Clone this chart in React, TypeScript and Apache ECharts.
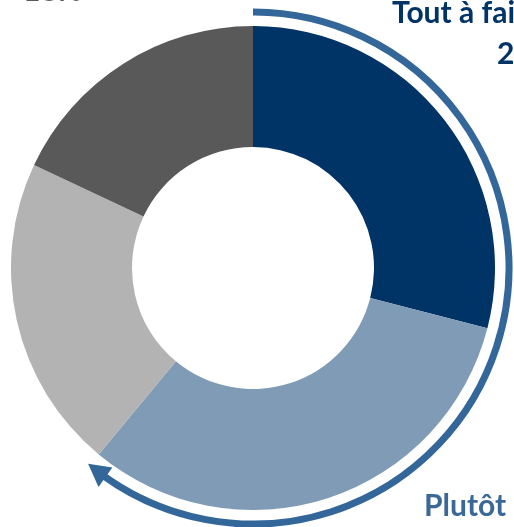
import React, { useEffect, useRef } from "react";
import * as echarts from "echarts";

const categories = ["Tout à fait d'accord", "Plutôt d'accord", "Plutôt pas d'accord", "Pas du tout d'accord"];
const values = [29, 32, 21, 18];
const sliceColors = ["#003366", "#7F9BB5", "#B3B3B3", "#595959"];
const labelColors = ["#003366", "#3A6898", "#808080", "#595959"];

export default function App() {
  const ref = useRef<HTMLDivElement>(null);
  useEffect(() => {
    if (!ref.current) return;
    const chart = echarts.init(ref.current, null, { renderer: "svg" });
    const cx = 253, cy = 268;
    const arcR = 256;
    const deg = Math.PI / 180;
    const tipA = 130.1 * deg;
    const baseA = 125.2 * deg;
    const pt = (r: number, a: number) => [cx + r * Math.cos(a), cy + r * Math.sin(a)];
    const font = "Lato, 'Open Sans', sans-serif";
    chart.setOption({
      animation: false,
      series: [
        {
          type: "pie",
          center: [cx, cy],
          radius: [121, 242],
          startAngle: 90,
          clockwise: true,
          label: { show: false },
          labelLine: { show: false },
          emphasis: { disabled: true },
          itemStyle: { borderWidth: 0 },
          data: categories.map((c, i) => ({ name: c, value: values[i], itemStyle: { color: sliceColors[i] } })),
        },
      ],
      graphic: [
        {
          type: "arc",
          shape: { cx, cy, r: arcR, startAngle: -90 * deg, endAngle: 126 * deg, clockwise: true },
          style: { stroke: "#336699", lineWidth: 7, fill: null },
        },
        {
          type: "polygon",
          shape: { points: [pt(arcR, tipA), pt(arcR + 12, baseA), pt(arcR - 12, baseA)] },
          style: { fill: "#336699" },
        },
        {
          type: "text", x: 392, y: 26,
          style: { text: categories[0], fill: labelColors[0], font: `bold 30px ${font}`, textAlign: "left", textVerticalAlign: "bottom" },
        },
        {
          type: "text", x: 497, y: 67,
          style: { text: values[0] + "%", fill: labelColors[0], font: `bold 30px ${font}`, textAlign: "left", textVerticalAlign: "bottom" },
        },
        {
          type: "text", x: 424, y: 519,
          style: { text: categories[1], fill: labelColors[1], font: `bold 30px ${font}`, textAlign: "left", textVerticalAlign: "bottom" },
        },
        {
          type: "text", x: 23, y: 4,
          style: { text: values[3] + "%", fill: labelColors[3], font: `bold 30px ${font}`, textAlign: "left", textVerticalAlign: "bottom" },
        },
      ],
    });
    return () => chart.dispose();
  }, []);
  return <div ref={ref} style={{ position: "fixed", left: 0, top: 0, width: 514, height: 527 }} />;
}
